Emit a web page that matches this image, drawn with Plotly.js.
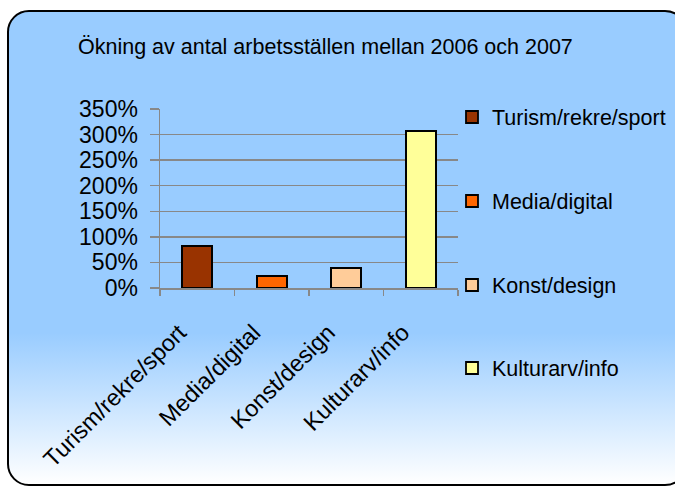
<!DOCTYPE html>
<html>
<head>
<meta charset="utf-8">
<script src="https://cdn.plot.ly/plotly-3.0.1.min.js"></script>
<style>
  html, body { margin: 0; padding: 0; background: #ffffff; }
  #wrap { position: relative; width: 675px; height: 487px; overflow: hidden; }
  #box {
    position: absolute; left: 7px; top: 10px; width: 676px; height: 472px;
    border: 2px solid #000; border-radius: 22px;
    background: linear-gradient(to bottom, #99ccff 0%, #99ccff 68%, #ffffff 100%);
  }
  #chart { position: absolute; left: 0; top: 0; width: 675px; height: 487px; }
</style>
</head>
<body>
<div id="wrap">
  <div id="box"></div>
  <div id="chart"></div>
</div>
<script>
const categories = ["Turism/rekre/sport", "Media/digital", "Konst/design", "Kulturarv/info"];
const values = [82, 23, 39, 307];
const colors = ["#993300", "#ff6600", "#ffcc99", "#ffff99"];
const yTicks = [0, 50, 100, 150, 200, 250, 300, 350];
const titleText = "Ökning av antal arbetsställen mellan 2006 och 2007";

const FONT = "Liberation Sans, Arial, sans-serif";
const legendNames = ["legend", "legend2", "legend3", "legend4"];
const legendY = [117, 201, 285, 368];

const traces = categories.map((c, i) => ({
  type: "bar",
  x: [c],
  y: [values[i]],
  name: c,
  legend: legendNames[i],
  marker: { color: colors[i], line: { color: "#000", width: 1.8 } },
  hoverinfo: "x+y"
}));

const W = 675, H = 487;
const M = { l: 160, r: 217, t: 109, b: 199, autoexpand: false };
const PW = W - M.l - M.r, PH = H - M.t - M.b;

const layout = {
  width: W, height: H,
  margin: M,
  paper_bgcolor: "rgba(0,0,0,0)",
  plot_bgcolor: "rgba(0,0,0,0)",
  barmode: "stack",
  bargap: 0.6,
  showlegend: true,
  title: {
    text: titleText,
    x: 78 / W, xanchor: "left",
    y: 1 - 46 / H, yanchor: "middle",
    font: { family: FONT, size: 21.5, color: "#000" }
  },
  xaxis: {
    type: "category",
    categoryarray: categories,
    showline: true, linecolor: "#888", linewidth: 1.5,
    ticks: "outside", tickson: "boundaries", ticklen: 6, tickcolor: "#888", tickwidth: 1.5,
    tickangle: -45,
    ticklabelstandoff: 20,
    ticklabelshift: -18,
    tickfont: { family: FONT, size: 23.5, color: "#000" },
    showgrid: false,
    automargin: false
  },
  yaxis: {
    range: [0, 350],
    tickvals: yTicks,
    ticktext: yTicks.map(v => v + "%"),
    showline: true, linecolor: "#888", linewidth: 1.5,
    ticks: "outside", ticklen: 9, tickcolor: "#888", tickwidth: 1.5,
    ticklabelstandoff: 7,
    showgrid: true, gridcolor: "#888", gridwidth: 1.5,
    zeroline: false,
    automargin: false,
    tickfont: { family: FONT, size: 23, color: "#000" }
  }
};
legendNames.forEach((ln, i) => {
  layout[ln] = {
    x: (452 - M.l) / PW, xanchor: "left",
    y: 1 - (legendY[i] - M.t) / PH, yanchor: "middle",
    bgcolor: "rgba(0,0,0,0)",
    font: { family: FONT, size: 21.5, color: "#000" },
    itemwidth: 30
  };
});

Plotly.newPlot("chart", traces, layout, { displayModeBar: false, staticPlot: true });
</script>
</body>
</html>
